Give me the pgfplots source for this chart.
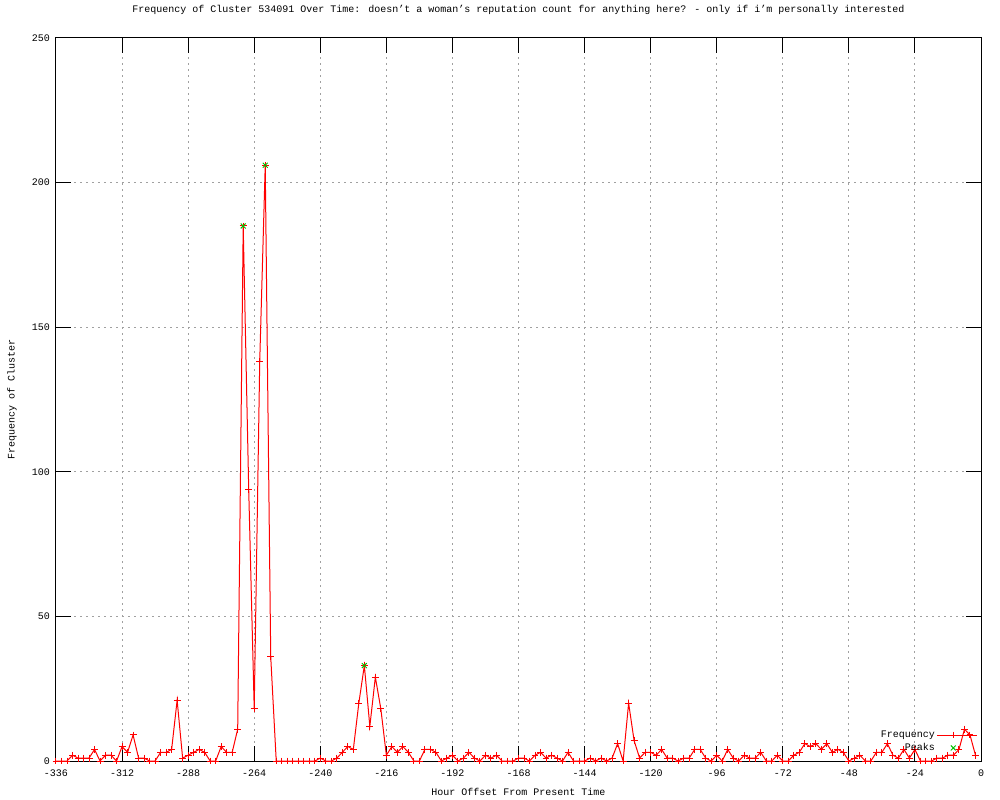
\documentclass[border=0pt]{standalone}
\usepackage{fontspec}
\setmainfont{Liberation Mono}
\usepackage{pgfplots}
\pgfplotsset{compat=1.18}
\definecolor{gpgreen}{RGB}{0,192,0}
\definecolor{gpgrid}{RGB}{160,160,160}
\newcommand{\gpfont}{\fontsize{7.5}{9}\selectfont}

\pgfplotstableread{
h v
-336 0
-334 0
-332 0
-330 2
-328 1
-326 1
-324 1
-322 4
-320 0
-318 2
-316 2
-314 0
-312 5
-310 3
-308 9
-306 1
-304 1
-302 0
-300 0
-298 3
-296 3
-294 4
-292 21
-290 1
-288 2
-286 3
-284 4
-282 3
-280 0
-278 0
-276 5
-274 3
-272 3
-270 11
-268 185
-266 94
-264 18
-262 138
-260 206
-258 36
-256 0
-254 0
-252 0
-250 0
-248 0
-246 0
-244 0
-242 0
-240 1
-238 0
-236 0
-234 1
-232 3
-230 5
-228 4
-226 20
-224 33
-222 12
-220 29
-218 18
-216 2
-214 5
-212 3
-210 5
-208 3
-206 0
-204 0
-202 4
-200 4
-198 3
-196 0
-194 1
-192 2
-190 0
-188 1
-186 3
-184 1
-182 0
-180 2
-178 1
-176 2
-174 0
-172 0
-170 0
-168 1
-166 1
-164 0
-162 2
-160 3
-158 1
-156 2
-154 1
-152 0
-150 3
-148 0
-146 0
-144 0
-142 1
-140 0
-138 1
-136 0
-134 1
-132 6
-130 0
-128 20
-126 7
-124 1
-122 3
-120 3
-118 2
-116 4
-114 1
-112 1
-110 0
-108 1
-106 1
-104 4
-102 4
-100 1
-98 0
-96 2
-94 0
-92 4
-90 1
-88 0
-86 2
-84 1
-82 1
-80 3
-78 0
-76 0
-74 2
-72 0
-70 0
-68 2
-66 3
-64 6
-62 5
-60 6
-58 4
-56 6
-54 3
-52 4
-50 3
-48 0
-46 1
-44 2
-42 0
-40 0
-38 3
-36 3
-34 6
-32 2
-30 1
-28 4
-26 1
-24 4
-22 0
-20 0
-18 0
-16 1
-14 1
-12 2
-10 2
-8 4
-6 11
-4 9
-2 2
}\freqdata

\pgfplotstableread{
h v
-268 185
-260 206
-224 33
}\peakdata

\begin{document}
\begin{tikzpicture}
% page = 1000 x 800 px at 0.75pt per px
\path[use as bounding box] (-42pt,-29.25pt) rectangle (708pt,570.75pt);
\begin{axis}[
    at={(0,0)}, anchor=south west,
    scale only axis,
    width=693.75pt, height=542.25pt,
    xmin=-336, xmax=0,
    ymin=0, ymax=250,
    xtick={-336,-312,...,0},
    ytick={0,50,...,250},
    grid=major,
    grid style={gpgrid, line width=0.75pt, dash pattern=on 1.5pt off 3pt},
    axis line style={black, line width=0.75pt},
    tick style={black, line width=0.75pt},
    tick align=inside,
    major tick length=11pt,
    font=\gpfont,
    /pgf/number format/assume math mode=true,
    xticklabel style={font=\gpfont, yshift=-3pt},
    yticklabel style={font=\gpfont, xshift=-1pt},
    title={Frequency of Cluster 534091 Over Time: doesn’t a woman’s reputation count for anything here? - only if i’m personally interested},
    title style={font=\gpfont, at={(axis description cs:0.5,1)}, anchor=center, yshift=15pt},
    xlabel={Hour Offset From Present Time},
    xlabel style={font=\gpfont, at={(axis description cs:0.5,0)}, anchor=center, yshift=-23.25pt},
    ylabel={Frequency of Cluster},
    ylabel style={font=\gpfont, at={(axis description cs:-0.0476,0.5)}, anchor=center},
    legend plot pos=right,
    legend cell align=right,
    legend style={at={(axis description cs:0.9968,0.045)}, anchor=north east,
        draw=none, fill=none, font=\gpfont, inner sep=0pt, row sep=0pt,
        nodes={inner sep=1.5pt}},
    legend image code/.code={\draw[mark repeat=2, mark phase=2, #1]
        plot coordinates {(0pt,0pt) (12pt,0pt) (30pt,0pt)};},
]
\addplot[red, line width=0.75pt, mark=+, mark size=2.6pt, mark options={solid}]
    table[x=h, y=v] {\freqdata};
\addlegendentry{Frequency}
\addplot[gpgreen, only marks, mark=x, mark size=2.6pt, line width=0.75pt]
    table[x=h, y=v] {\peakdata};
\addlegendentry{Peaks}
\end{axis}
\end{tikzpicture}
\end{document}
